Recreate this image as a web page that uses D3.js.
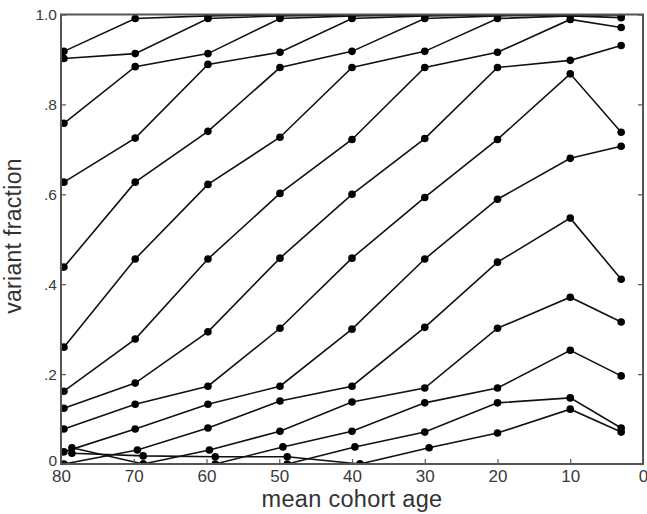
<!DOCTYPE html>
<html>
<head>
<meta charset="utf-8">
<script src="https://cdn.jsdelivr.net/npm/d3@7"></script>
<style>
  html, body { margin: 0; padding: 0; background: #fff; }
  svg { display: block; }
</style>
</head>
<body>
<svg id="chart" width="647" height="514"></svg>
<script>
// ---- data ----
const colAges = [79.6, 69.8, 59.8, 49.9, 40, 30, 20, 10, 3];
const s0 = [0.918, 0.991, 0.997, 0.999, 1, 1, 1, 1, 1];
const s1 = [0.902, 0.913, 0.991, 0.997, 0.999, 1, 1, 1, 1];
const s2 = [0.758, 0.884, 0.913, 0.991, 0.997, 0.999, 1, 1, 1];
const s3 = [0.627, 0.725, 0.889, 0.916, 0.991, 0.997, 0.999, 1, 1];
const s4 = [0.438, 0.627, 0.740, 0.882, 0.918, 0.991, 0.997, 0.999, 1];
const s5 = [0.260, 0.456, 0.622, 0.727, 0.882, 0.918, 0.991, 0.997, 0.993];
const s6 = [0.162, 0.278, 0.456, 0.602, 0.722, 0.882, 0.916, 0.989, 0.971];
const s7 = [0.124, 0.180, 0.294, 0.458, 0.600, 0.724, 0.882, 0.898, 0.931];
const s8 = [0.078, 0.133, 0.173, 0.302, 0.458, 0.593, 0.722, 0.868, 0.738];
const s9 = [0.027, 0.078, 0.133, 0.173, 0.300, 0.456, 0.589, 0.680, 0.707];

const s10Ages = [79.6, 69.5, 59.8, 49.9, 40, 30, 20, 10, 3];
const s10 = [0, 0.031, 0.080, 0.140, 0.173, 0.304, 0.449, 0.547, 0.411];
const s11Ages = [68.7, 59.6, 49.9, 40, 30, 20, 10, 3];
const s11 = [0, 0.031, 0.073, 0.138, 0.169, 0.302, 0.371, 0.316];
const s12Ages = [58.8, 49.5, 40, 30, 20, 10, 3];
const s12 = [0, 0.038, 0.073, 0.136, 0.169, 0.253, 0.196];
const s13Ages = [48.9, 39.6, 30, 20, 10, 3];
const s13 = [0, 0.038, 0.071, 0.136, 0.147, 0.080];
const s14Ages = [38.9, 29.4, 20, 10, 3];
const s14 = [0, 0.036, 0.069, 0.122, 0.071];

const d1Ages = [78.5, 68.7];
const d1 = [0.036, 0];
const d2Ages = [78.5, 68.7, 58.8, 48.9, 38.9];
const d2 = [0.024, 0.018, 0.016, 0.016, 0];

const xTicks = [80, 70, 60, 50, 40, 30, 20, 10, 0];
const yTicks = [0, 0.2, 0.4, 0.6, 0.8, 1.0];
const yTickLabels = ["0", ".2", ".4", ".6", ".8", "1.0"];
const xTitle = "mean cohort age";
const yTitle = "variant fraction";

// ---- build series list ----
const seriesList = [
  [colAges, s0], [colAges, s1], [colAges, s2], [colAges, s3], [colAges, s4],
  [colAges, s5], [colAges, s6], [colAges, s7], [colAges, s8], [colAges, s9],
  [s10Ages, s10], [s11Ages, s11], [s12Ages, s12], [s13Ages, s13], [s14Ages, s14],
  [d1Ages, d1], [d2Ages, d2]
].map(([a, v]) => a.map((age, i) => ({ age, v: v[i] })));

// ---- layout ----
const L = 61, R = 643, T = 14.5, B = 464;
const svg = d3.select("#chart");
const x = d3.scaleLinear().domain([80, 0]).range([L, R]);
const y = d3.scaleLinear().domain([0, 1]).range([B, T]);

svg.append("defs").append("clipPath").attr("id", "clip")
  .append("rect").attr("x", L).attr("y", T).attr("width", R - L).attr("height", B - T);

const plot = svg.append("g").attr("clip-path", "url(#clip)");
const line = d3.line().x(d => x(d.age)).y(d => y(d.v));

plot.selectAll("path.series").data(seriesList).enter().append("path")
  .attr("class", "series")
  .attr("d", line)
  .attr("fill", "none")
  .attr("stroke", "#111")
  .attr("stroke-width", 1.6);

plot.selectAll("g.pts").data(seriesList).enter().append("g")
  .selectAll("circle").data(d => d).enter().append("circle")
  .attr("cx", d => x(d.age)).attr("cy", d => y(d.v)).attr("r", 3.8)
  .attr("fill", "#000");

// ---- axes ----
const fmtY = d => yTickLabels[yTicks.indexOf(d)];
const axColor = "#555";

const gL = svg.append("g").attr("transform", `translate(${L},0)`)
  .call(d3.axisLeft(y).tickValues(yTicks).tickFormat(fmtY).tickSize(-5).tickPadding(4));
const gR = svg.append("g").attr("transform", `translate(${R},0)`)
  .call(d3.axisRight(y).tickValues(yTicks).tickFormat("").tickSize(-5));
const gB = svg.append("g").attr("transform", `translate(0,${B})`)
  .call(d3.axisBottom(x).tickValues(xTicks).tickFormat(d3.format("d")).tickSize(-5).tickPadding(6));

[gL, gR, gB].forEach(g => {
  g.select(".domain").remove();
  g.selectAll(".tick line").attr("stroke", axColor).attr("stroke-width", 1.2);
  g.selectAll("text").attr("fill", "#3a3a3a").attr("font-family", "Liberation Sans, Arial, sans-serif");
});
gL.selectAll("text").attr("font-size", 15.5);
// lift the "0" label slightly so it clears the "80" below it
gL.selectAll(".tick text").filter(d => d === 0).attr("dy", "0.1em");
gB.selectAll("text").attr("font-size", 17);

// frame
svg.append("rect").attr("x", L).attr("y", T).attr("width", R - L).attr("height", B - T)
  .attr("fill", "none").attr("stroke", axColor).attr("stroke-width", 2);

// titles
svg.append("text")
  .attr("x", (L + R) / 2).attr("y", 507)
  .attr("text-anchor", "middle")
  .attr("font-family", "Liberation Sans, Arial, sans-serif")
  .attr("font-size", 23.5).attr("letter-spacing", 0.3)
  .attr("fill", "#333")
  .text(xTitle);

svg.append("text")
  .attr("transform", "translate(21,236) rotate(-90)")
  .attr("text-anchor", "middle")
  .attr("font-family", "Liberation Sans, Arial, sans-serif")
  .attr("font-size", 23).attr("letter-spacing", 0.3)
  .attr("fill", "#333")
  .text(yTitle);
</script>
</body>
</html>
